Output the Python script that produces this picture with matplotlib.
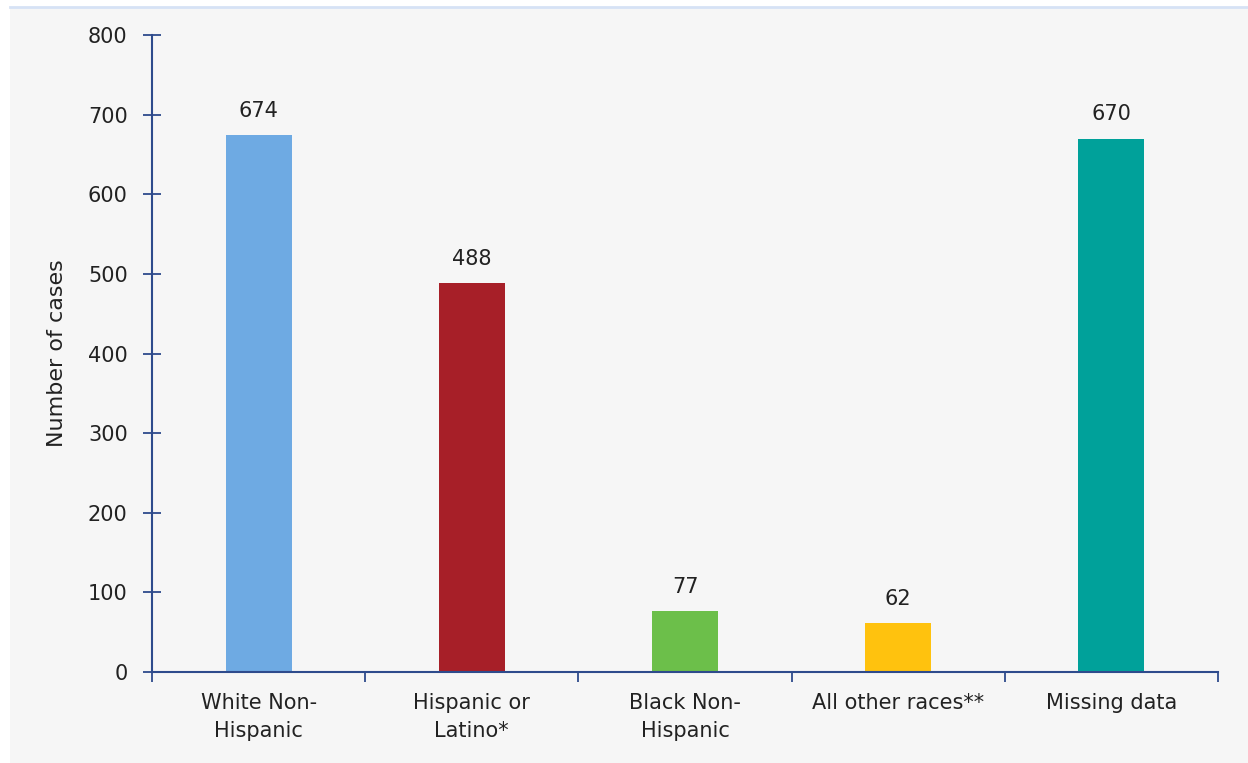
import matplotlib
matplotlib.use('Agg')
import matplotlib.pyplot as plt
from matplotlib.patches import Rectangle
from matplotlib.lines import Line2D
import numpy as np

categories = ['White Non-\nHispanic', 'Hispanic or\nLatino*', 'Black Non-\nHispanic',
              'All other races**', 'Missing data']
cases = [674, 488, 77, 62, 670]
colors = ['#6EAAE3', '#A71F28', '#6CBF4A', '#FFC20E', '#00A19A']

axis_color = '#2E4B8C'
text_color = '#222222'
bg = '#F6F6F6'
fs = 15

plt.rcParams['font.family'] = ['DejaVu Sans']

fig = plt.figure(figsize=(12.48, 7.63), dpi=100)
fig.patch.set_facecolor('white')
# grey panel with a thin blue rule on top
fig.patches.append(Rectangle((10 / 1248, 0), 1 - 10 / 1248, 1 - 7 / 763,
                             transform=fig.transFigure, facecolor=bg,
                             edgecolor='none', zorder=-2))
fig.lines.append(Line2D([10 / 1248, 1], [1 - 6.5 / 763, 1 - 6.5 / 763],
                        transform=fig.transFigure, color='#D6E2F5', lw=2, zorder=-1))

ax = fig.add_axes([152 / 1248, 1 - 672 / 763, (1218 - 152) / 1248, (672 - 35) / 763])
ax.set_facecolor(bg)

x = np.arange(len(categories))
ax.bar(x, cases, width=0.31, color=colors, zorder=2)

for xi, v in zip(x, cases):
    ax.annotate(str(v), (xi, v), xytext=(0, 13), textcoords='offset points',
                ha='center', va='baseline', fontsize=fs, color=text_color)

ax.set_xlim(-0.5, len(categories) - 0.5)
ax.set_ylim(0, 800)
ax.set_yticks(range(0, 801, 100))
ax.set_xticks(x)
ax.set_xticklabels(categories, fontsize=fs, color=text_color, linespacing=1.5)
ax.set_xticks(np.arange(-0.5, len(categories)), minor=True)

ax.tick_params(axis='y', direction='inout', length=13, width=1.3, color=axis_color,
               labelsize=fs, labelcolor=text_color, pad=11)
ax.tick_params(axis='x', which='major', length=0, pad=15)
ax.tick_params(axis='x', which='minor', direction='out', length=7, width=1.3,
               color=axis_color)

for side in ['top', 'right']:
    ax.spines[side].set_visible(False)
for side in ['left', 'bottom']:
    ax.spines[side].set_color(axis_color)
    ax.spines[side].set_linewidth(1.5)

ax.set_ylabel('Number of cases', fontsize=16, color=text_color)
ax.yaxis.set_label_coords(-0.08, 0.5)

fig.savefig('out.png', dpi=100, facecolor=fig.get_facecolor())
